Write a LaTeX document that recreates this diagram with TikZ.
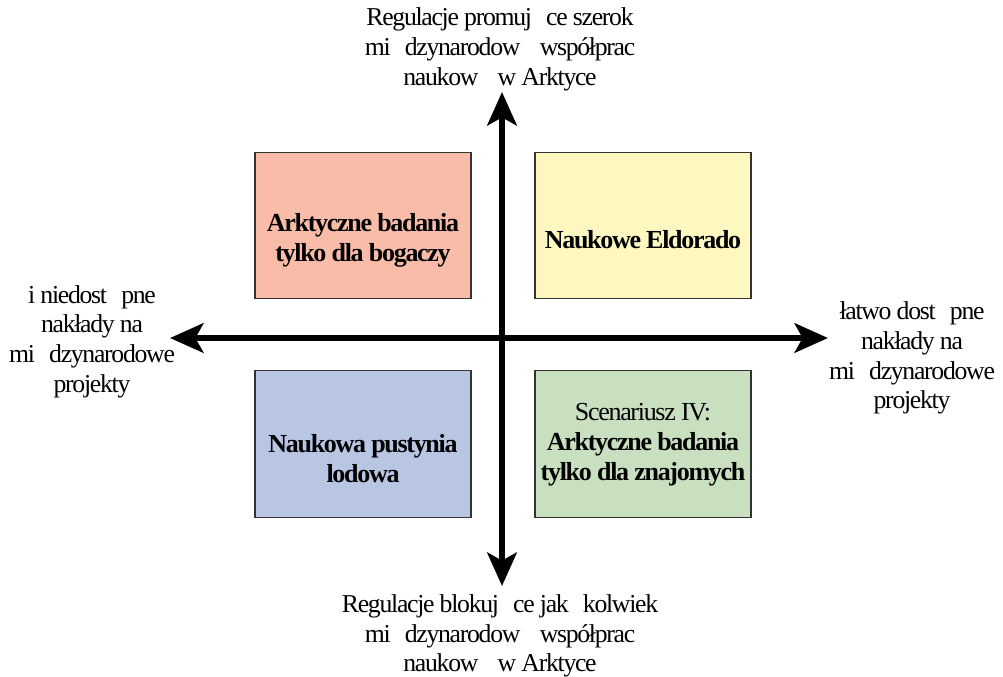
\documentclass[tikz,border=0pt]{standalone}
\usepackage{fontspec}
\setmainfont{Liberation Serif}[LetterSpace=-5]
\usetikzlibrary{arrows.meta}
\definecolor{cRed}{HTML}{F8BCA8}
\definecolor{cYel}{HTML}{FEF8C0}
\definecolor{cBlu}{HTML}{B8C6E4}
\definecolor{cGrn}{HTML}{C8E0C0}
\newcommand{\gp}{\hspace{0.55em}}
\tikzset{
  quad/.style={draw=black!80, line width=0.8pt, minimum width=162pt, minimum height=110pt, inner sep=0pt},
  qtxt/.style={inner sep=0pt, align=center, font=\fontsize{19.5}{22.5}\selectfont\bfseries},
  axis/.style={line width=5.2pt, -{Stealth[length=25pt,width=22pt,inset=6pt]}},
  lbl/.style={align=center, font=\fontsize{19.3}{22.3}\selectfont, inner sep=0pt}
}
\begin{document}
\begin{tikzpicture}[x=0.75pt,y=-0.75pt]
\useasboundingbox (0,0) rectangle (1003,676);
\coordinate (c) at (502,338);
\coordinate (top) at (502,92);
\coordinate (bot) at (502,586);
\coordinate (lft) at (170,338);
\coordinate (rgt) at (828,338);
\draw[axis] (c) -- (top);
\draw[axis] (c) -- (bot);
\draw[axis] (c) -- (lft);
\draw[axis] (c) -- (rgt);
\node[quad, fill=cRed] (tl) at (363,225.5) {};
\node[quad, fill=cYel] (tr) at (643,225.5) {};
\node[quad, fill=cBlu] (bl) at (363,444) {};
\node[quad, fill=cGrn] (br) at (643,444) {};
\node[qtxt] (tlt) at (363,240) {Arktyczne badania\\tylko dla bogaczy};
\node[qtxt] (trt) at (643,240) {Naukowe Eldorado};
\node[qtxt] (blt) at (363,459) {Naukowa pustynia\\lodowa};
\node[qtxt] (brt) at (643,445) {{\mdseries Scenariusz IV:}\\Arktyczne badania\\tylko dla znajomych};
\node[lbl] (tt) at (500,49.5) {Regulacje promuj\gp ce szerok\\mi\gp dzynarodow\gp\ współprac\\naukow\gp\ w Arktyce};
\node[lbl] (bt) at (500,636) {Regulacje blokuj\gp ce jak\gp kolwiek\\mi\gp dzynarodow\gp\ współprac\\naukow\gp\ w Arktyce};
\node[lbl] (lt) at (92,341.5) {i niedost\gp pne\\nakłady na\\mi\gp dzynarodowe\\projekty};
\node[lbl] (rt) at (912,358) {łatwo dost\gp pne\\nakłady na\\mi\gp dzynarodowe\\projekty};
\end{tikzpicture}
\end{document}
